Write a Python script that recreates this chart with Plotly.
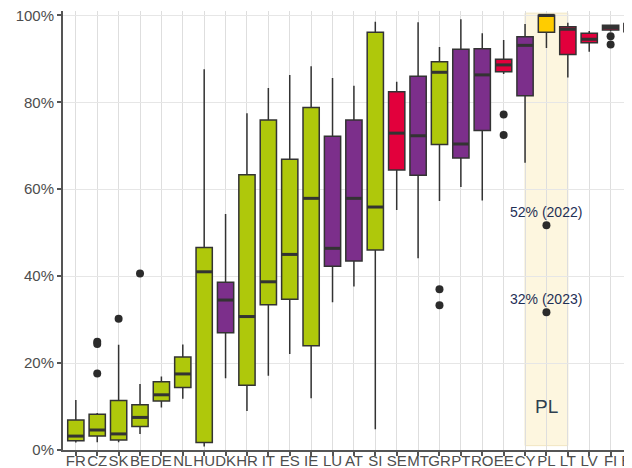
import plotly.graph_objects as go

categories = ["FR", "CZ", "SK", "BE", "DE", "NL", "HU", "DK", "HR", "IT", "ES", "IE", "LU", "AT",
              "SI", "SE", "MT", "GR", "PT", "RO", "EE", "CY", "PL", "LT", "LV", "FI", "BG"]
groups = ["g", "g", "g", "g", "g", "g", "g", "p", "g", "g", "g", "g", "p", "p",
          "g", "r", "p", "g", "p", "p", "r", "p", "y", "r", "r", "r", "r"]
lower = [0.017, 0.018, 0.018, 0.037, 0.098, 0.118, 0.008, 0.165, 0.090, 0.171, 0.221, 0.119, 0.340, 0.376,
         0.048, 0.552, 0.441, 0.573, 0.605, 0.574, 0.865, 0.661, 0.925, 0.857, 0.916, 0.963, 0.936]
q1 = [0.021, 0.032, 0.023, 0.054, 0.113, 0.144, 0.017, 0.270, 0.149, 0.334, 0.347, 0.240, 0.423, 0.435,
      0.460, 0.644, 0.632, 0.703, 0.672, 0.735, 0.870, 0.815, 0.961, 0.910, 0.937, 0.966, 0.962]
median = [0.032, 0.046, 0.037, 0.075, 0.127, 0.175, 0.410, 0.345, 0.307, 0.387, 0.450, 0.579, 0.464, 0.579,
          0.559, 0.729, 0.723, 0.869, 0.704, 0.863, 0.886, 0.931, 1.000, 0.968, 0.945, 0.972, 0.975]
q3 = [0.069, 0.082, 0.114, 0.104, 0.157, 0.214, 0.466, 0.386, 0.633, 0.759, 0.669, 0.788, 0.722, 0.759,
      0.961, 0.824, 0.860, 0.893, 0.922, 0.923, 0.899, 0.951, 1.000, 0.974, 0.959, 0.977, 0.981]
upper = [0.115, 0.085, 0.242, 0.152, 0.169, 0.243, 0.876, 0.543, 0.775, 0.833, 0.863, 0.883, 0.856, 0.838,
         0.985, 0.847, 0.984, 0.927, 0.991, 0.959, 0.943, 0.980, 1.000, 0.983, 0.964, 0.979, 0.990]

outlier_cat = ["CZ", "CZ", "CZ", "SK", "BE", "GR", "GR", "EE", "EE", "PL", "PL", "FI", "FI"]
outlier_val = [0.249, 0.244, 0.176, 0.302, 0.406, 0.370, 0.333, 0.772, 0.725, 0.517, 0.317, 0.952, 0.933]

pl_points = [0.517, 0.317]
pl_years = ["2022", "2023"]

y_ticks = [0, 0.2, 0.4, 0.6, 0.8, 1.0]
y_ticklabels = ["0%", "20%", "40%", "60%", "80%", "100%"]

palette = {"g": "#afc80b", "p": "#7c2f8b", "r": "#e2003c", "y": "#ffcc00"}
outline = "#333333"
box_w = 0.76

fig = go.Figure()

idx = {c: i for i, c in enumerate(categories)}

for i, c in enumerate(categories):
    fig.add_trace(go.Box(
        x=[i], q1=[q1[i]], median=[median[i]], q3=[q3[i]],
        lowerfence=[lower[i]], upperfence=[upper[i]],
        width=box_w, fillcolor=palette[groups[i]],
        line=dict(color=outline, width=1.5), boxpoints=False,
        whiskerwidth=0, showlegend=False, name=c,
    ))

# thicker median lines
mx, my = [], []
for i, m in enumerate(median):
    mx += [i - box_w / 2, i + box_w / 2, None]
    my += [m, m, None]
fig.add_trace(go.Scatter(x=mx, y=my, mode="lines", line=dict(color=outline, width=3),
                         showlegend=False, hoverinfo="skip"))

fig.add_trace(go.Scatter(
    x=[idx[c] for c in outlier_cat], y=outlier_val, mode="markers",
    marker=dict(color="#2b2b2b", size=8), showlegend=False,
))

pl = idx["PL"]
fig.add_shape(type="rect", xref="x", yref="y", x0=pl - 1, x1=pl + 1, y0=0.01, y1=1.005,
              fillcolor="#fdf6df", line=dict(color="#f1e6c2", width=1), layer="below")

fig.add_annotation(x=pl, y=0.101, text="PL", showarrow=False,
                   font=dict(size=19, color="#2f3f4f", family="Liberation Sans"))
for v, yr in zip(pl_points, pl_years):
    fig.add_annotation(x=pl, y=v, text=f"{round(v * 100)}% ({yr})", showarrow=False, yshift=13,
                       font=dict(size=14, color="#1f3056", family="Liberation Sans"))

# the page body has an 8px default margin; size the figure so it fills the window from there
fig.update_layout(
    width=624, height=460,
    margin=dict(l=55, r=0, t=3, b=18),
    paper_bgcolor="white", plot_bgcolor="white",
    boxmode="overlay",
    font=dict(family="Liberation Sans", size=15, color="#4d4d4d"),
)
fig.update_xaxes(
    range=[-0.6, len(categories) - 1], tickmode="array",
    tickvals=list(range(len(categories))), ticktext=categories, tickangle=0,
    showgrid=True, gridcolor="#dedede", gridwidth=1,
    showline=True, linecolor="#555555", linewidth=2,
    ticks="outside", ticklen=4, tickcolor="#555555", tickwidth=1.5,
    tickfont=dict(size=15, color="#4d4d4d"), automargin=False, zeroline=False,
    ticklabeloverflow="allow", ticklabelstandoff=-8,
)
fig.update_yaxes(
    range=[0, 1.01], tickmode="array", tickvals=y_ticks, ticktext=y_ticklabels,
    showgrid=True, gridcolor="#e6e6e6", gridwidth=1,
    showline=True, linecolor="#555555", linewidth=2,
    ticks="outside", ticklen=4, tickcolor="#555555", tickwidth=1.5,
    tickfont=dict(size=15, color="#4d4d4d"), automargin=False, zeroline=False,
    ticklabeloverflow="allow",
)

fig.write_html("out.html")
